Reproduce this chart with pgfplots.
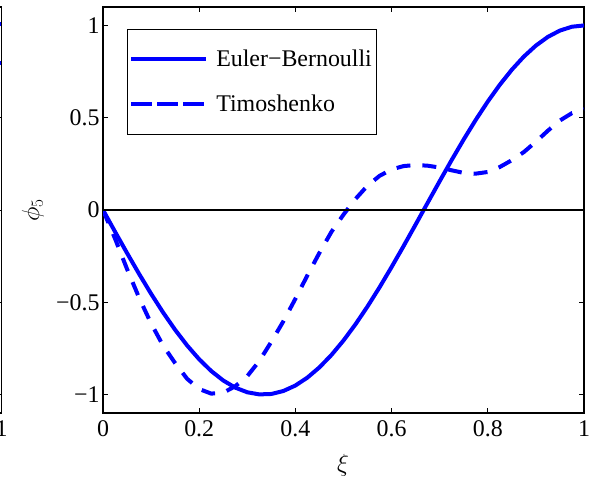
\documentclass[border=0pt]{standalone}
\usepackage{fontspec}
\setmainfont{Liberation Serif}
\usepackage{pgfplots}
\pgfplotsset{compat=1.18}

% Euler-Bernoulli mode shape phi_5(xi)
\pgfplotstableread{
xi     phi
0.000  0.0000
0.025 -0.1175
0.050 -0.2334
0.075 -0.3461
0.100 -0.4540
0.125 -0.5556
0.150 -0.6494
0.175 -0.7343
0.200 -0.8090
0.225 -0.8725
0.250 -0.9239
0.275 -0.9625
0.300 -0.9877
0.325 -0.9992
0.350 -0.9969
0.375 -0.9808
0.400 -0.9511
0.425 -0.9081
0.450 -0.8526
0.475 -0.7853
0.500 -0.7071
0.525 -0.6191
0.550 -0.5225
0.575 -0.4187
0.600 -0.3090
0.625 -0.1951
0.650 -0.0785
0.675  0.0393
0.700  0.1564
0.725  0.2714
0.750  0.3827
0.775  0.4886
0.800  0.5878
0.825  0.6788
0.850  0.7604
0.875  0.8315
0.900  0.8910
0.925  0.9382
0.950  0.9724
0.975  0.9931
1.000  1.0000
}\eulerdata

% Timoshenko mode shape phi_5(xi)
\pgfplotstableread{
xi     phi
0.000  0.000
0.025 -0.155
0.050 -0.320
0.075 -0.475
0.100 -0.615
0.125 -0.735
0.150 -0.830
0.175 -0.915
0.200 -0.970
0.225 -0.995
0.250 -0.990
0.275 -0.955
0.300 -0.900
0.325 -0.818
0.350 -0.714
0.375 -0.603
0.400 -0.481
0.425 -0.354
0.450 -0.232
0.475 -0.118
0.500 -0.025
0.525  0.060
0.550  0.132
0.575  0.185
0.600  0.220
0.625  0.238
0.650  0.244
0.675  0.240
0.700  0.230
0.725  0.215
0.750  0.201
0.775  0.197
0.800  0.206
0.825  0.233
0.850  0.270
0.875  0.314
0.900  0.370
0.925  0.430
0.950  0.485
0.975  0.525
1.000  0.546
}\timodata

\pgfplotsset{
  matlabframe/.style={
    scale only axis, width=481bp, height=406bp,
    xmin=0, xmax=1, ymin=-1.1, ymax=1.1,
    axis line style={line width=1.1bp, black},
    tick align=inside, tick pos=both,
    major tick length=5bp,
    every tick/.style={black, line width=0.8bp},
    xtick={0,0.2,0.4,0.6,0.8,1}, xticklabels={0,0.2,0.4,0.6,0.8,1},
    ytick={-1,-0.5,0,0.5,1}, yticklabels={−1,−0.5,0,0.5,1},
    ticklabel style={font=\fontsize{24}{28}\selectfont},
    xticklabel style={yshift=-4bp},
    label style={font=\fontsize{24}{28}\selectfont},
  },
  ebline/.style={blue, line width=4bp},
  tmline/.style={blue, line width=4bp, dash pattern=on 14bp off 12bp},
}

\begin{document}
\begin{tikzpicture}
\useasboundingbox (0,0) rectangle (594bp,482bp);
\clip (0,0) rectangle (594bp,482bp);

% neighbouring panel (phi_4), only its right edge lies in view
\begin{axis}[matlabframe, at={(1.5bp,69bp)}, anchor=south east]
  \addplot[ebline] coordinates {(0.97,1.01) (1,1.01)};
  \addplot[ebline] coordinates {(0.97,0.795) (1,0.795)};
\end{axis}

\begin{axis}[matlabframe, at={(103bp,69bp)}, anchor=south west,
    xlabel={$\xi$}, ylabel={$\phi_5$},
    xlabel style={at={(axis description cs:0.499,-0.13)}, anchor=center},
    ylabel style={at={(axis description cs:-0.1455,0.5)}, anchor=center},
    legend cell align=left,
    legend style={at={(axis description cs:0.05,0.946)}, anchor=north west,
      draw=black, fill=white,
      font=\fontsize{24}{28}\selectfont,
      inner xsep=2bp, inner ysep=19bp, row sep=23bp, column sep=6bp,
      nodes={inner sep=2bp}},
    legend image code/.code={
      \path (0bp,0bp) -- (75bp,0bp);
      \draw[#1, line width=4bp] (7bp,0bp) -- (75bp,0bp);
    },
  ]
  \addplot[ebline] table[x=xi, y=phi] {\eulerdata};
  \addlegendentry{Euler−Bernoulli}
  \addplot[tmline] table[x=xi, y=phi] {\timodata};
  \addlegendentry{Timoshenko}
  \addplot[black, line width=1.3bp, forget plot] coordinates {(0,0) (1,0)};
\end{axis}
\end{tikzpicture}
\end{document}
